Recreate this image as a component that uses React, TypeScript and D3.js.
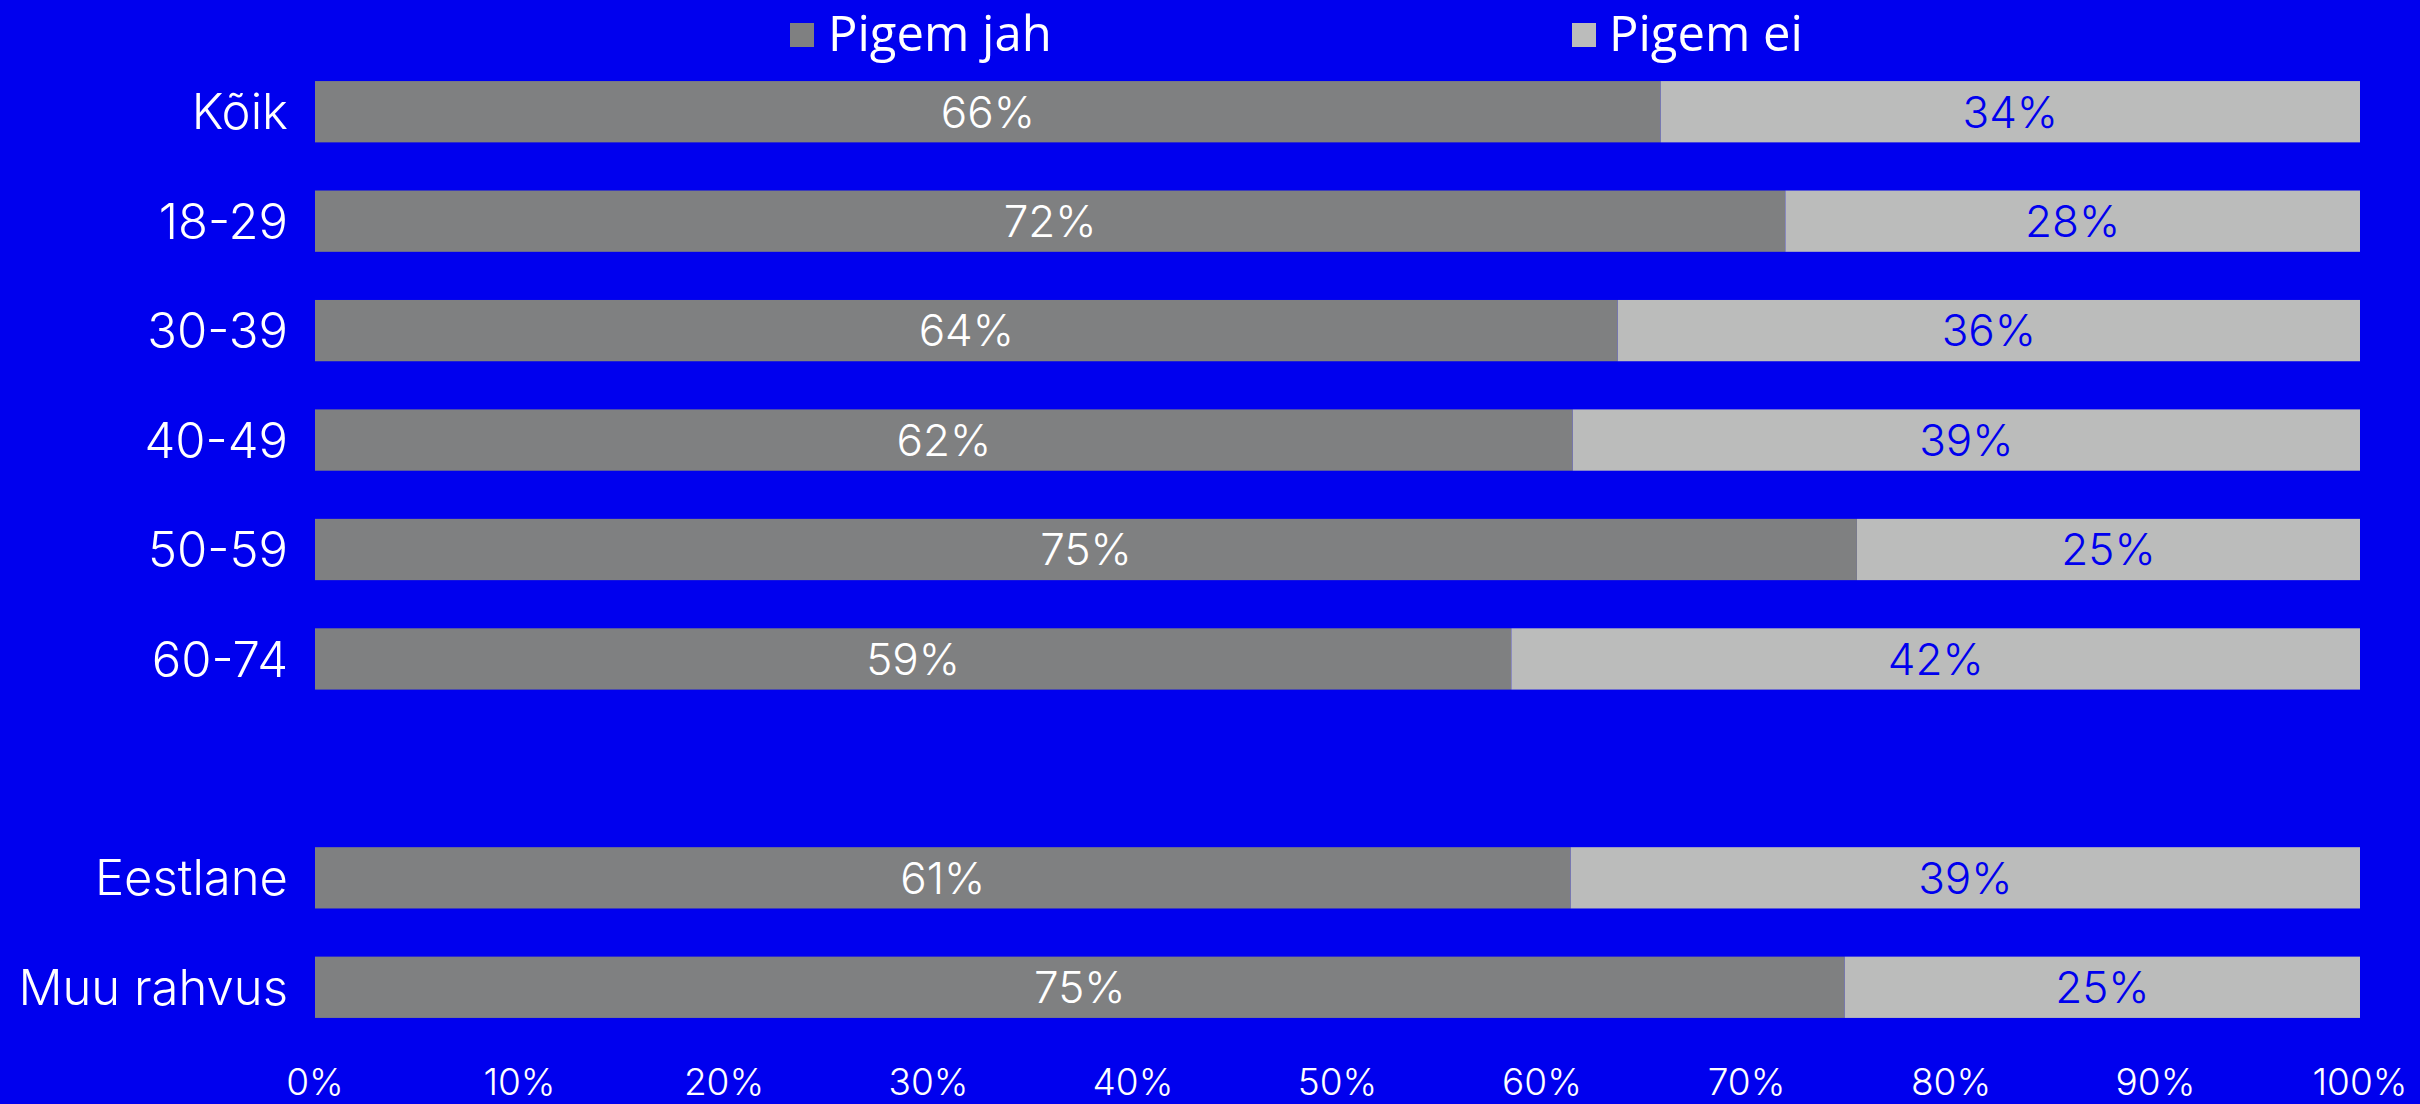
import React from "react";
import * as d3 from "d3";

const categories = ["Kõik", "18-29", "30-39", "40-49", "50-59", "60-74", "Eestlane", "Muu rahvus"];
const gapAfter = "60-74";
const yesValues = [65.8, 71.9, 63.7, 61.5, 75.4, 58.5, 61.4, 74.8];
const noValues = [34.2, 28.1, 36.3, 38.5, 24.6, 41.5, 38.6, 25.2];
const seriesNames = ["Pigem jah", "Pigem ei"];
const xTicks = [0, 10, 20, 30, 40, 50, 60, 70, 80, 90, 100];

const W = 2420;
const H = 1104;
const BG = "#0000EE";
const DARK = "#7F8081";
const LIGHT = "#BBBCBB";
const FONT = "Inter, Lato, sans-serif";
const LEGEND_FONT = "'Open Sans', sans-serif";

export default function App() {
  const domain: string[] = [];
  categories.forEach((c) => {
    domain.push(c);
    if (c === gapAfter) domain.push("__gap__");
  });
  const x = d3.scaleLinear().domain([0, 100]).range([315, 2360]);
  const y = d3.scaleBand<string>().domain(domain).range([57, 1042]).paddingInner(0.44).paddingOuter(0.22);
  const bw = y.bandwidth();
  const fmt = (v: number) => `${Math.round(v)}%`;

  return (
    <svg width={W} height={H} style={{ position: "absolute", left: 0, top: 0, background: BG }}>
      <rect x={0} y={0} width={W} height={H} fill={BG} />
      {/* Legend */}
      <g fontFamily={LEGEND_FONT} fontSize={49} fill="#fff">
        <rect x={790} y={23} width={24} height={24} fill={DARK} />
        <text x={828} y={51}>{seriesNames[0]}</text>
        <rect x={1572} y={23} width={24} height={24} fill={LIGHT} />
        <text x={1609} y={51}>{seriesNames[1]}</text>
      </g>
      {categories.map((c, i) => {
        const y0 = y(c) as number;
        const cy = y0 + bw / 2;
        const yes = yesValues[i];
        const no = noValues[i];
        const xa = x(0);
        const xb = x(yes);
        const xc = Math.min(x(yes + no), x(100));
        return (
          <g key={c}>
            <text x={288} y={cy} dy="0.36em" textAnchor="end" fill="#fff" fontFamily={FONT} fontWeight={300} fontSize={49}>
              {c}
            </text>
            <rect x={xa} y={y0} width={xb - xa} height={bw} fill={DARK} />
            <rect x={xb} y={y0} width={xc - xb} height={bw} fill={LIGHT} />
            <text x={(xa + xb) / 2} y={cy} dy="0.36em" textAnchor="middle" fill="#fff" fontFamily={FONT} fontWeight={300} fontSize={44}>
              {fmt(yes)}
            </text>
            <text x={(xb + xc) / 2} y={cy} dy="0.36em" textAnchor="middle" fill={BG} fontFamily={FONT} fontWeight={300} fontSize={44}>
              {fmt(no)}
            </text>
          </g>
        );
      })}
      <g fontFamily={FONT} fontWeight={300} fontSize={37} fill="#fff">
        {xTicks.map((t) => (
          <text key={t} x={x(t)} y={1095} textAnchor="middle">
            {`${t}%`}
          </text>
        ))}
      </g>
    </svg>
  );
}
